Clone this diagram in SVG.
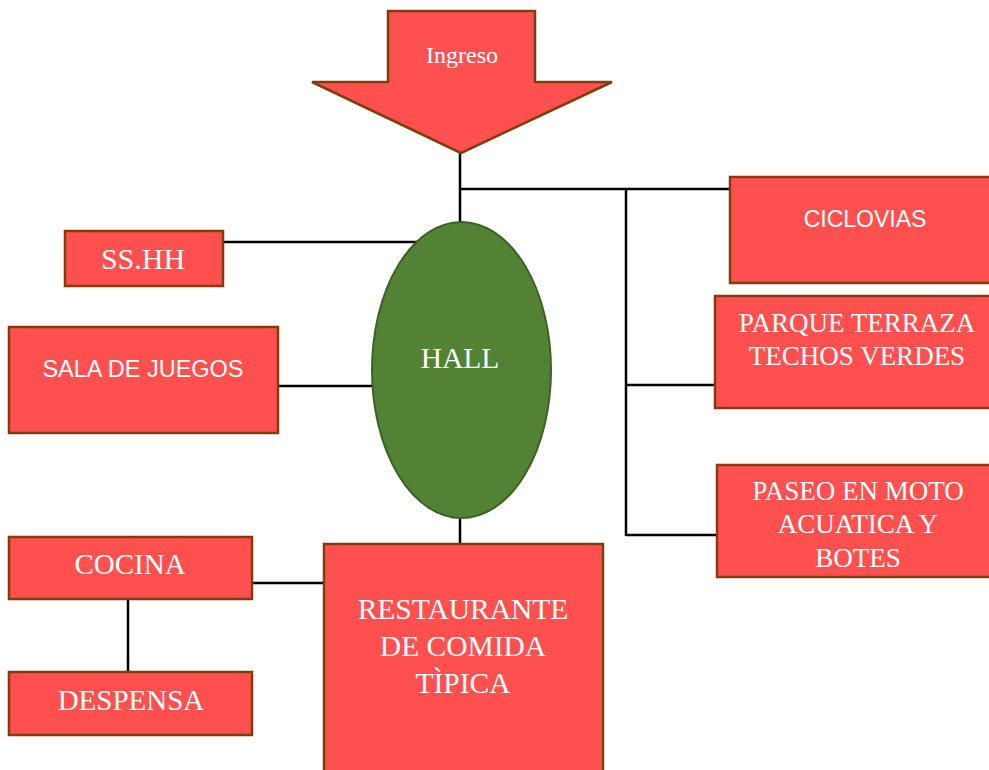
<svg xmlns="http://www.w3.org/2000/svg" width="989" height="770" viewBox="0 0 989 770">
<style>
.box{fill:#FF5050;stroke:#843C0C;stroke-width:2.5}
.hall{fill:#548235;stroke:#3D6126;stroke-width:2}
.ln{stroke:#000;stroke-width:2.5;fill:none}
.s{font-family:"Liberation Serif","Times New Roman",serif;fill:#fff;text-anchor:middle}
.ss{font-family:"Liberation Sans",Arial,sans-serif;fill:#fff;text-anchor:middle}
</style>
<rect width="989" height="770" fill="#fff"/>
<g id="connectors">
<path class="ln" d="M460,153 V225"/>
<path class="ln" d="M460,189 H731"/>
<path class="ln" d="M626,189 V536"/>
<path class="ln" d="M626,385 H716"/>
<path class="ln" d="M626,535 H718"/>
<path class="ln" d="M223,242 H430"/>
<path class="ln" d="M278,386 H390"/>
<path class="ln" d="M460,510 V545"/>
<path class="ln" d="M252,583 H324"/>
<path class="ln" d="M128,599 V672"/>
</g>
<g id="ingreso">
<polygon class="box" points="388,11 535,11 535,82 612,82 461,153 312,82 388,82"/>
<text class="s" x="462" y="63" font-size="24">Ingreso</text>
</g>
<g id="hall">
<ellipse class="hall" cx="461.5" cy="370" rx="89.5" ry="148"/>
<text class="s" x="460" y="368" font-size="29.5">HALL</text>
</g>
<g id="sshh">
<rect class="box" x="65" y="231" width="158" height="55"/>
<text class="s" x="143" y="269" font-size="30">SS.HH</text>
</g>
<g id="sala">
<rect class="box" x="9" y="327" width="269" height="106"/>
<text class="ss" x="143" y="377" font-size="23.5">SALA DE JUEGOS</text>
</g>
<g id="ciclovias">
<rect class="box" x="730" y="177" width="262" height="106"/>
<text class="ss" x="865" y="227" font-size="23">CICLOVIAS</text>
</g>
<g id="parque">
<rect class="box" x="715" y="296" width="277" height="112"/>
<text class="s" x="857" y="332" font-size="27">PARQUE TERRAZA</text>
<text class="s" x="857" y="365" font-size="27">TECHOS VERDES</text>
</g>
<g id="paseo">
<rect class="box" x="717" y="465" width="275" height="112"/>
<text class="s" x="858" y="500" font-size="27">PASEO EN MOTO</text>
<text class="s" x="858" y="533" font-size="27">ACUATICA Y</text>
<text class="s" x="858" y="567" font-size="27">BOTES</text>
</g>
<g id="cocina">
<rect class="box" x="9" y="537" width="243" height="62"/>
<text class="s" x="130" y="574" font-size="29">COCINA</text>
</g>
<g id="despensa">
<rect class="box" x="9" y="672" width="243" height="63"/>
<text class="s" x="131" y="710" font-size="29">DESPENSA</text>
</g>
<g id="restaurante">
<rect class="box" x="324" y="544" width="279" height="240"/>
<text class="s" x="463" y="619" font-size="29.5">RESTAURANTE</text>
<text class="s" x="463" y="656" font-size="29.5">DE COMIDA</text>
<text class="s" x="463" y="693" font-size="29.5">TÌPICA</text>
</g>
</svg>
